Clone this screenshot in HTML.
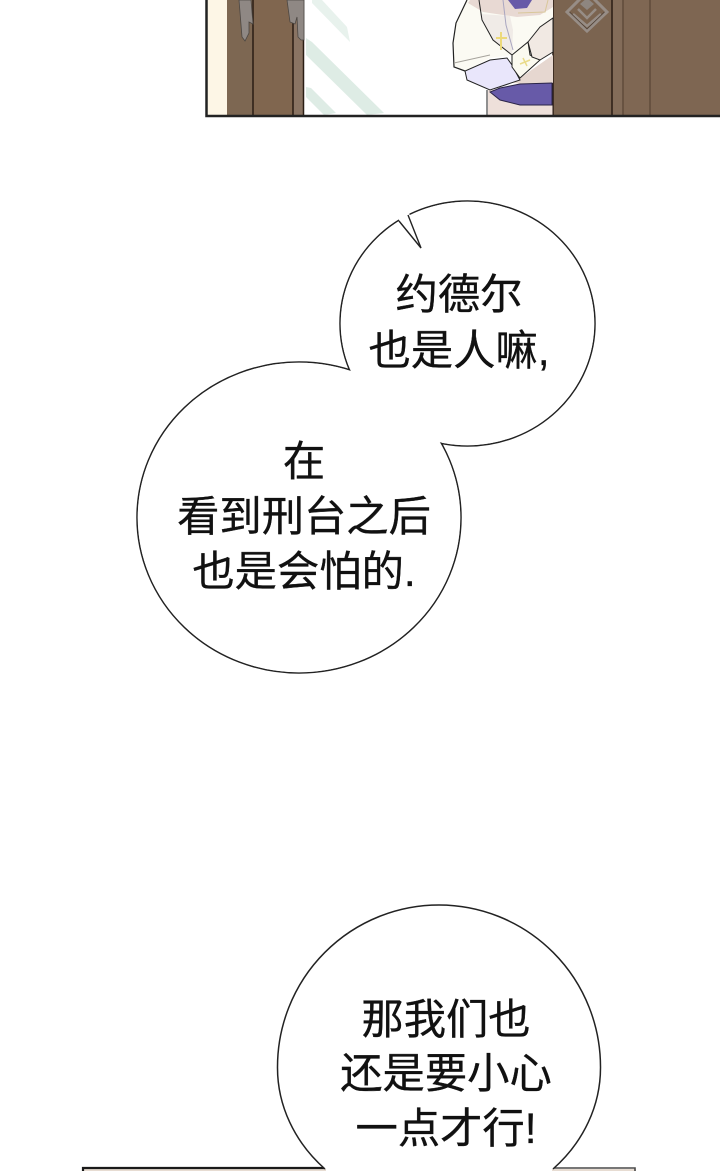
<!DOCTYPE html>
<html><head><meta charset="utf-8"><style>
html,body{margin:0;padding:0;background:#fff;width:720px;height:1171px;overflow:hidden}
svg{display:block}
text{font-family:"Liberation Sans","Noto Sans CJK SC",sans-serif;font-size:42.3px;fill:#111;stroke:#111;stroke-width:.35;text-anchor:middle}
</style></head><body>
<svg width="720" height="1171" viewBox="0 0 720 1171" xmlns="http://www.w3.org/2000/svg">
<!-- top panel backgrounds -->
<rect x="207" y="0" width="20" height="116" fill="#fdf6e6"/>
<rect x="227" y="0" width="26" height="116" fill="#7d6752"/>
<rect x="253" y="0" width="40" height="116" fill="#80664f"/>
<rect x="293" y="0" width="10" height="116" fill="#8a7463"/>
<rect x="303" y="0" width="250" height="116" fill="#fff"/>
<g fill="#e8f2ed">
<polygon points="312,0 322,0 347,27 350,42 312,3"/>
</g>
<g fill="#deece5">
<polygon points="306,38 312,42 384,113 367,115 306,55"/>
<polygon points="306,87 311,88 336,113 324,115 306,97"/>
</g>
<rect x="553" y="0" width="59" height="116" fill="#7b6450"/>
<rect x="612" y="0" width="11" height="116" fill="#836c59"/>
<rect x="623" y="0" width="27" height="116" fill="#7f6753"/>
<rect x="650" y="0" width="70" height="116" fill="#7e6652"/>
<g stroke="#2a1d14" fill="none">
<path d="M253 0V116M293 0V116M303.500 0V116" stroke-width="1.500"/>
<path d="M553 0V116" stroke-width="1.500"/>
<path d="M612 0V116" stroke-width="1.500"/>
<path d="M623 0V116M650 0V116" stroke="#5b4636" stroke-width="1.300"/>
</g>
<!-- handles -->
<g fill="#8f8884" stroke="#4c4743" stroke-width=".8">
<path d="M239 0L242 37L245 41L249 33V22L253 24L251 0Z"/>
<path d="M287 0L290 22L295 24L297 17L298 37L301 40L304 40V0Z"/>
</g>
<!-- knot -->
<g fill="none" stroke-linejoin="miter">
<path d="M587 -8L607 12L587 31L567 12Z" stroke="#978d86" stroke-width="3"/>
<path d="M573 14L587 26L601 14" stroke="#978d86" stroke-width="2.500"/>
<path d="M578 9L587 18L596 9" stroke="#978d86" stroke-width="2.500"/>
<path d="M569.500 12L587 29L604.500 12" stroke="#4d3f35" stroke-width=".8"/>
<path d="M587 -2L594 4L587 10L580 4Z" fill="#8e8680"/>
</g>
<!-- figure -->
<path d="M488 90H552.500V116H488Z" fill="#eee0da"/>
<path d="M467 0L456 23L453 43L454 67L465 71L490 58L512 55L553 20V0Z" fill="#fbfaf3"/>
<path d="M468 3L483 12L517 17L540 15L553 7V0H470Z" fill="#e8d9d3"/>
<path d="M480 14L482 20L493 40L512 55L513 30L510 16Z" fill="#f0ebe7"/>
<path d="M520 78L553 55V83L520 84L510 82Z" fill="#e6d7d0"/>
<path d="M508 0L515 9L527 8L532 0Z" fill="#675aa8"/>
<path d="M490 92L500 100L520 105L552 105V83L520 84L500 88Z" fill="#675aa8" stroke="#2a2448" stroke-width="1"/>
<path d="M465 71L467 80L490 90L520 80L512 65L507 58L490 60Z" fill="#e9e6fb" stroke="#222" stroke-width="1"/>
<path d="M512 55L528 42L530 55L540 60L520 78L512 67Z" fill="#fbfaf0" stroke="#222" stroke-width="1"/>
<path d="M528 42L540 27L553 18V52L540 60L532 57Z" fill="#f1e9e3" stroke="#222" stroke-width="1"/>
<path d="M467 0L456 23L453 43L454 67L465 71" fill="none" stroke="#222" stroke-width="1.200"/>
<path d="M479 0L482 20L493 40L512 55" fill="none" stroke="#222" stroke-width="1"/>
<path d="M454 63L490 55" fill="none" stroke="#a6a39c" stroke-width="1"/>
<path d="M503 0L506 25L513 50" fill="none" stroke="#a9a6c0" stroke-width="1"/>
<path d="M518 13L545 12L548 0" fill="none" stroke="#d9c79a" stroke-width="1"/>
<path d="M501 32V50M496 38H507" stroke="#ecd97a" stroke-width="2" fill="none"/>
<path d="M523 58L527 66M520 64L530 60" stroke="#eadb8a" stroke-width="1.500" fill="none"/>
<path d="M487 90V116" stroke="#222" stroke-width="1"/>
<!-- frame -->
<path d="M206.500 0V116H720" fill="none" stroke="#222" stroke-width="2.500"/>
<!-- bottom panel -->
<rect x="84" y="1169" width="552" height="2" fill="#e7dcd2"/>
<path d="M83 1171V1168H326" fill="none" stroke="#1a1a1a" stroke-width="2.200"/>
<path d="M553 1168H635V1171" fill="none" stroke="#4a4a4a" stroke-width="1.600"/>
<!-- top double bubble: union of two ellipses -->
<ellipse cx="467.500" cy="323.500" rx="127.500" ry="122.500" fill="#fff" stroke="#222" stroke-width="1.500"/>
<ellipse cx="299" cy="517.500" rx="162" ry="155.500" fill="#fff" stroke="#222" stroke-width="1.500"/>
<ellipse cx="467.500" cy="323.500" rx="126.700" ry="121.700" fill="#fff"/>
<ellipse cx="299" cy="517.500" rx="161.200" ry="154.700" fill="#fff"/>
<polygon points="398,218 409,212 410,217 421,248 400,222" fill="#fff"/>
<path d="M399 221L421 248L408 215" fill="none" stroke="#222" stroke-width="1.400" stroke-linejoin="miter"/>
<!-- lower bubble -->
<path d="M325 1169A161.500 143 0 0 1 277.500 1067A161.500 162 0 0 1 600.500 1067A161.500 143 0 0 1 553 1169Z" fill="#fff" stroke="none"/>
<path d="M325 1169A161.500 143 0 0 1 277.500 1067A161.500 162 0 0 1 600.500 1067A161.500 143 0 0 1 553 1169" fill="none" stroke="#222" stroke-width="1.500"/>
<rect x="326" y="1167" width="226" height="4" fill="#fff"/>
<!-- text -->
<text x="459" y="309">约德尔</text>
<text x="459" y="365">也是人嘛,</text>
<text x="304" y="476">在</text>
<text x="304" y="531">看到刑台之后</text>
<text x="304" y="586">也是会怕的.</text>
<text x="446" y="1034">那我们也</text>
<text x="446" y="1088">还是要小心</text>
<text x="446" y="1143">一点才行!</text>
</svg>
</body></html>
